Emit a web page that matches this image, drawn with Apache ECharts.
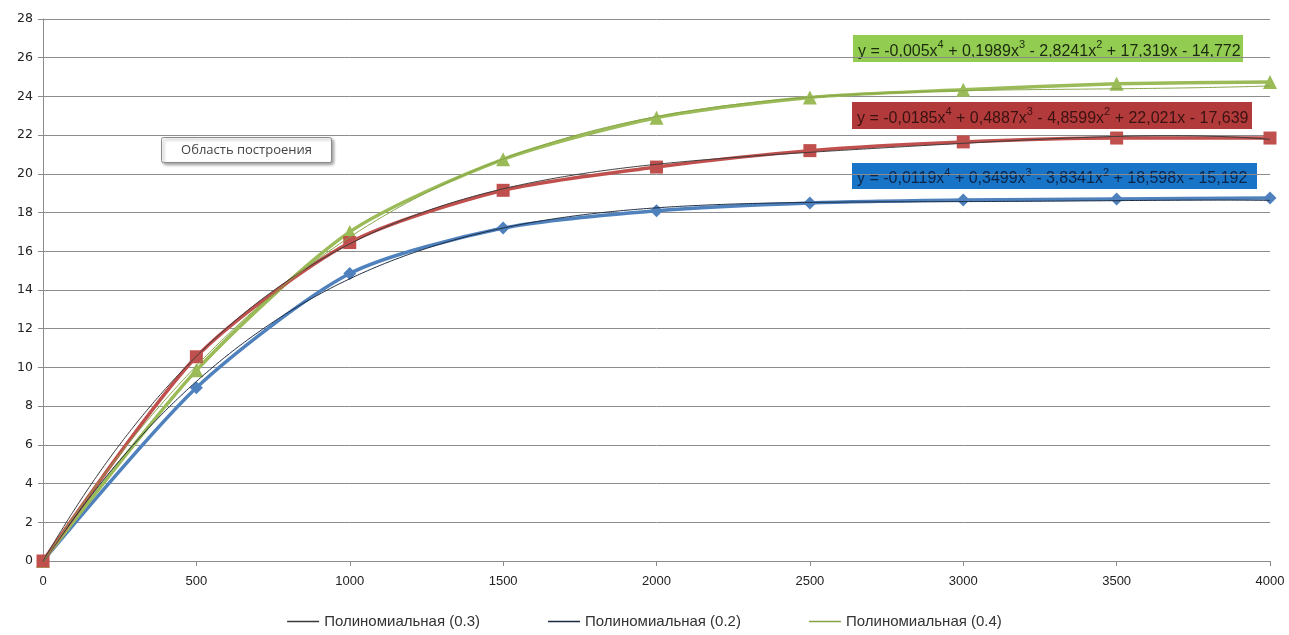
<!DOCTYPE html>
<html>
<head>
<meta charset="utf-8">
<script src="https://cdn.jsdelivr.net/npm/echarts@6/dist/echarts.min.js"></script>
<style>
  html, body { margin: 0; padding: 0; background: #fff; }
  #chart { width: 1289px; height: 635px; }
</style>
</head>
<body>
<div id="chart"></div>
<script>
// Load (x) values along the horizontal axis
const xValues = [0, 500, 1000, 1500, 2000, 2500, 3000, 3500, 4000];

// Measured curves for the three coefficients
const series02 = [0, 8.95, 14.85, 17.2, 18.1, 18.5, 18.65, 18.7, 18.75];
const series03 = [0, 10.55, 16.45, 19.15, 20.35, 21.2, 21.65, 21.85, 21.85];
const series04 = [0, 9.85, 17.0, 20.75, 22.9, 23.95, 24.35, 24.65, 24.75];

// Polynomial trendline coefficients [a4, a3, a2, a1, a0] (x = point number 1..9)
const poly02 = [-0.0119, 0.3499, -3.8341, 18.598, -15.192];
const poly03 = [-0.0185, 0.4887, -4.8599, 22.021, -17.639];
const poly04 = [-0.005, 0.1989, -2.8241, 17.319, -14.772];

const trendNames = ['Полиномиальная (0.3)', 'Полиномиальная (0.2)', 'Полиномиальная (0.4)'];
const yTicks = [0, 28, 2];
const xTicks = [0, 4000, 500];

function pairs(vals) {
  return xValues.map((x, i) => [x, vals[i]]);
}

// Evaluate a trendline at the point number matching an x value
function trend(c) {
  const pts = [];
  const step = xValues[1] - xValues[0];
  for (let x = xValues[0]; x <= xValues[xValues.length - 1]; x += 25) {
    const k = x / step + 1;
    pts.push([x, c[0] * k ** 4 + c[1] * k ** 3 + c[2] * k ** 2 + c[3] * k + c[4]]);
  }
  return pts;
}

// Equation text in rich format with raised exponents
function eqRich(c) {
  const f = v => Math.abs(v).toString().replace('.', ',');
  const sg = v => (v < 0 ? ' - ' : ' + ');
  return '{n|y = ' + (c[0] < 0 ? '-' : '') + f(c[0]) + 'x}{s|4}' +
    '{n|' + sg(c[1]) + f(c[1]) + 'x}{s|3}' +
    '{n|' + sg(c[2]) + f(c[2]) + 'x}{s|2}' +
    '{n|' + sg(c[3]) + f(c[3]) + 'x' + sg(c[4]) + f(c[4]) + '}';
}

function eqBox(left, top, w, h, bg, fg, c) {
  return {
    type: 'group', left: left, top: top, z: 100,
    children: [
      { type: 'rect', shape: { x: 0, y: 0, width: w, height: h }, style: { fill: bg } },
      {
        type: 'text', x: 5, y: h / 2 + 1,
        style: {
          text: eqRich(c), verticalAlign: 'middle', fill: fg,
          rich: {
            n: { fontFamily: 'Liberation Sans', fontSize: 16, lineHeight: 20, fill: fg, verticalAlign: 'bottom' },
            s: { fontFamily: 'Liberation Sans', fontSize: 11, lineHeight: 20, fill: fg, verticalAlign: 'top' }
          }
        }
      }
    ]
  };
}

const chart = echarts.init(document.getElementById('chart'), null, { renderer: 'canvas' });

const dataLine = (name, vals, color, symbol, size) => ({
  name: name, type: 'line', data: pairs(vals), smooth: 0.25,
  symbol: symbol, symbolSize: size, showSymbol: true,
  lineStyle: { color: color, width: 3.5 },
  itemStyle: { color: color },
  z: 2, animation: false
});

const trendLine = (name, c, color) => ({
  name: name, type: 'line', data: trend(c), smooth: true,
  showSymbol: false, symbol: 'none',
  lineStyle: { color: color, width: 1 },
  itemStyle: { color: color },
  z: 5, animation: false, silent: true
});

chart.setOption({
  backgroundColor: '#ffffff',
  animation: false,
  grid: { left: 43, right: 19, top: 19, bottom: 74, containLabel: false },
  legend: {
    data: trendNames,
    bottom: 1, left: 'center',
    itemWidth: 32, itemHeight: 10, itemGap: 68,
    icon: 'path://M0,5 L30,5 L30,6.2 L0,6.2 Z',
    textStyle: { fontFamily: 'Liberation Sans', fontSize: 15, color: '#333' }
  },
  xAxis: {
    type: 'value', min: xTicks[0], max: xTicks[1], interval: xTicks[2],
    axisLine: { show: true, lineStyle: { color: '#8c8c8c', width: 1 } },
    axisTick: { show: true, inside: false, length: 5, lineStyle: { color: '#8c8c8c' } },
    axisLabel: { margin: 14, fontFamily: 'Liberation Sans', fontSize: 13, color: '#222', formatter: v => String(v) },
    splitLine: { show: false }
  },
  yAxis: {
    type: 'value', min: yTicks[0], max: yTicks[1], interval: yTicks[2],
    axisLine: { show: true, lineStyle: { color: '#8c8c8c', width: 1 } },
    axisTick: { show: true, inside: false, length: 5, lineStyle: { color: '#8c8c8c' } },
    axisLabel: { margin: 10, fontFamily: 'DejaVu Sans', fontSize: 12.5, color: '#222', formatter: v => String(v) },
    splitLine: { show: true, lineStyle: { color: '#8c8c8c', width: 1 } }
  },
  series: [
    dataLine('0.2', series02, '#4F81BD', 'diamond', 13),
    dataLine('0.4', series04, '#9BBB59', 'triangle', 14),
    dataLine('0.3', series03, '#C0504D', 'rect', 13),
    trendLine(trendNames[0], poly03, '#3a3a3a'),
    trendLine(trendNames[1], poly02, '#1a2a40'),
    trendLine(trendNames[2], poly04, '#86a447')
  ],
  graphic: [
    eqBox(853, 35, 390, 27, '#92CC50', '#1c2a10', poly04),
    eqBox(852, 102, 400, 27, '#B33A3A', '#3a1212', poly03),
    eqBox(852, 163, 405, 26, '#1874C6', '#0b2448', poly02),
    {
      type: 'group', left: 161, top: 137, z: 100,
      children: [
        {
          type: 'rect', shape: { x: 0, y: 0, width: 170, height: 25, r: 2 },
          style: { fill: '#ffffff', stroke: '#8a8a8a', lineWidth: 1, shadowBlur: 3, shadowOffsetX: 2, shadowOffsetY: 2, shadowColor: 'rgba(0,0,0,0.35)' }
        },
        {
          type: 'text', x: 85, y: 13,
          style: { text: 'Область построения', align: 'center', verticalAlign: 'middle', fontFamily: 'Open Sans', fontSize: 13, fill: '#444' }
        }
      ]
    }
  ]
});
</script>
</body>
</html>
